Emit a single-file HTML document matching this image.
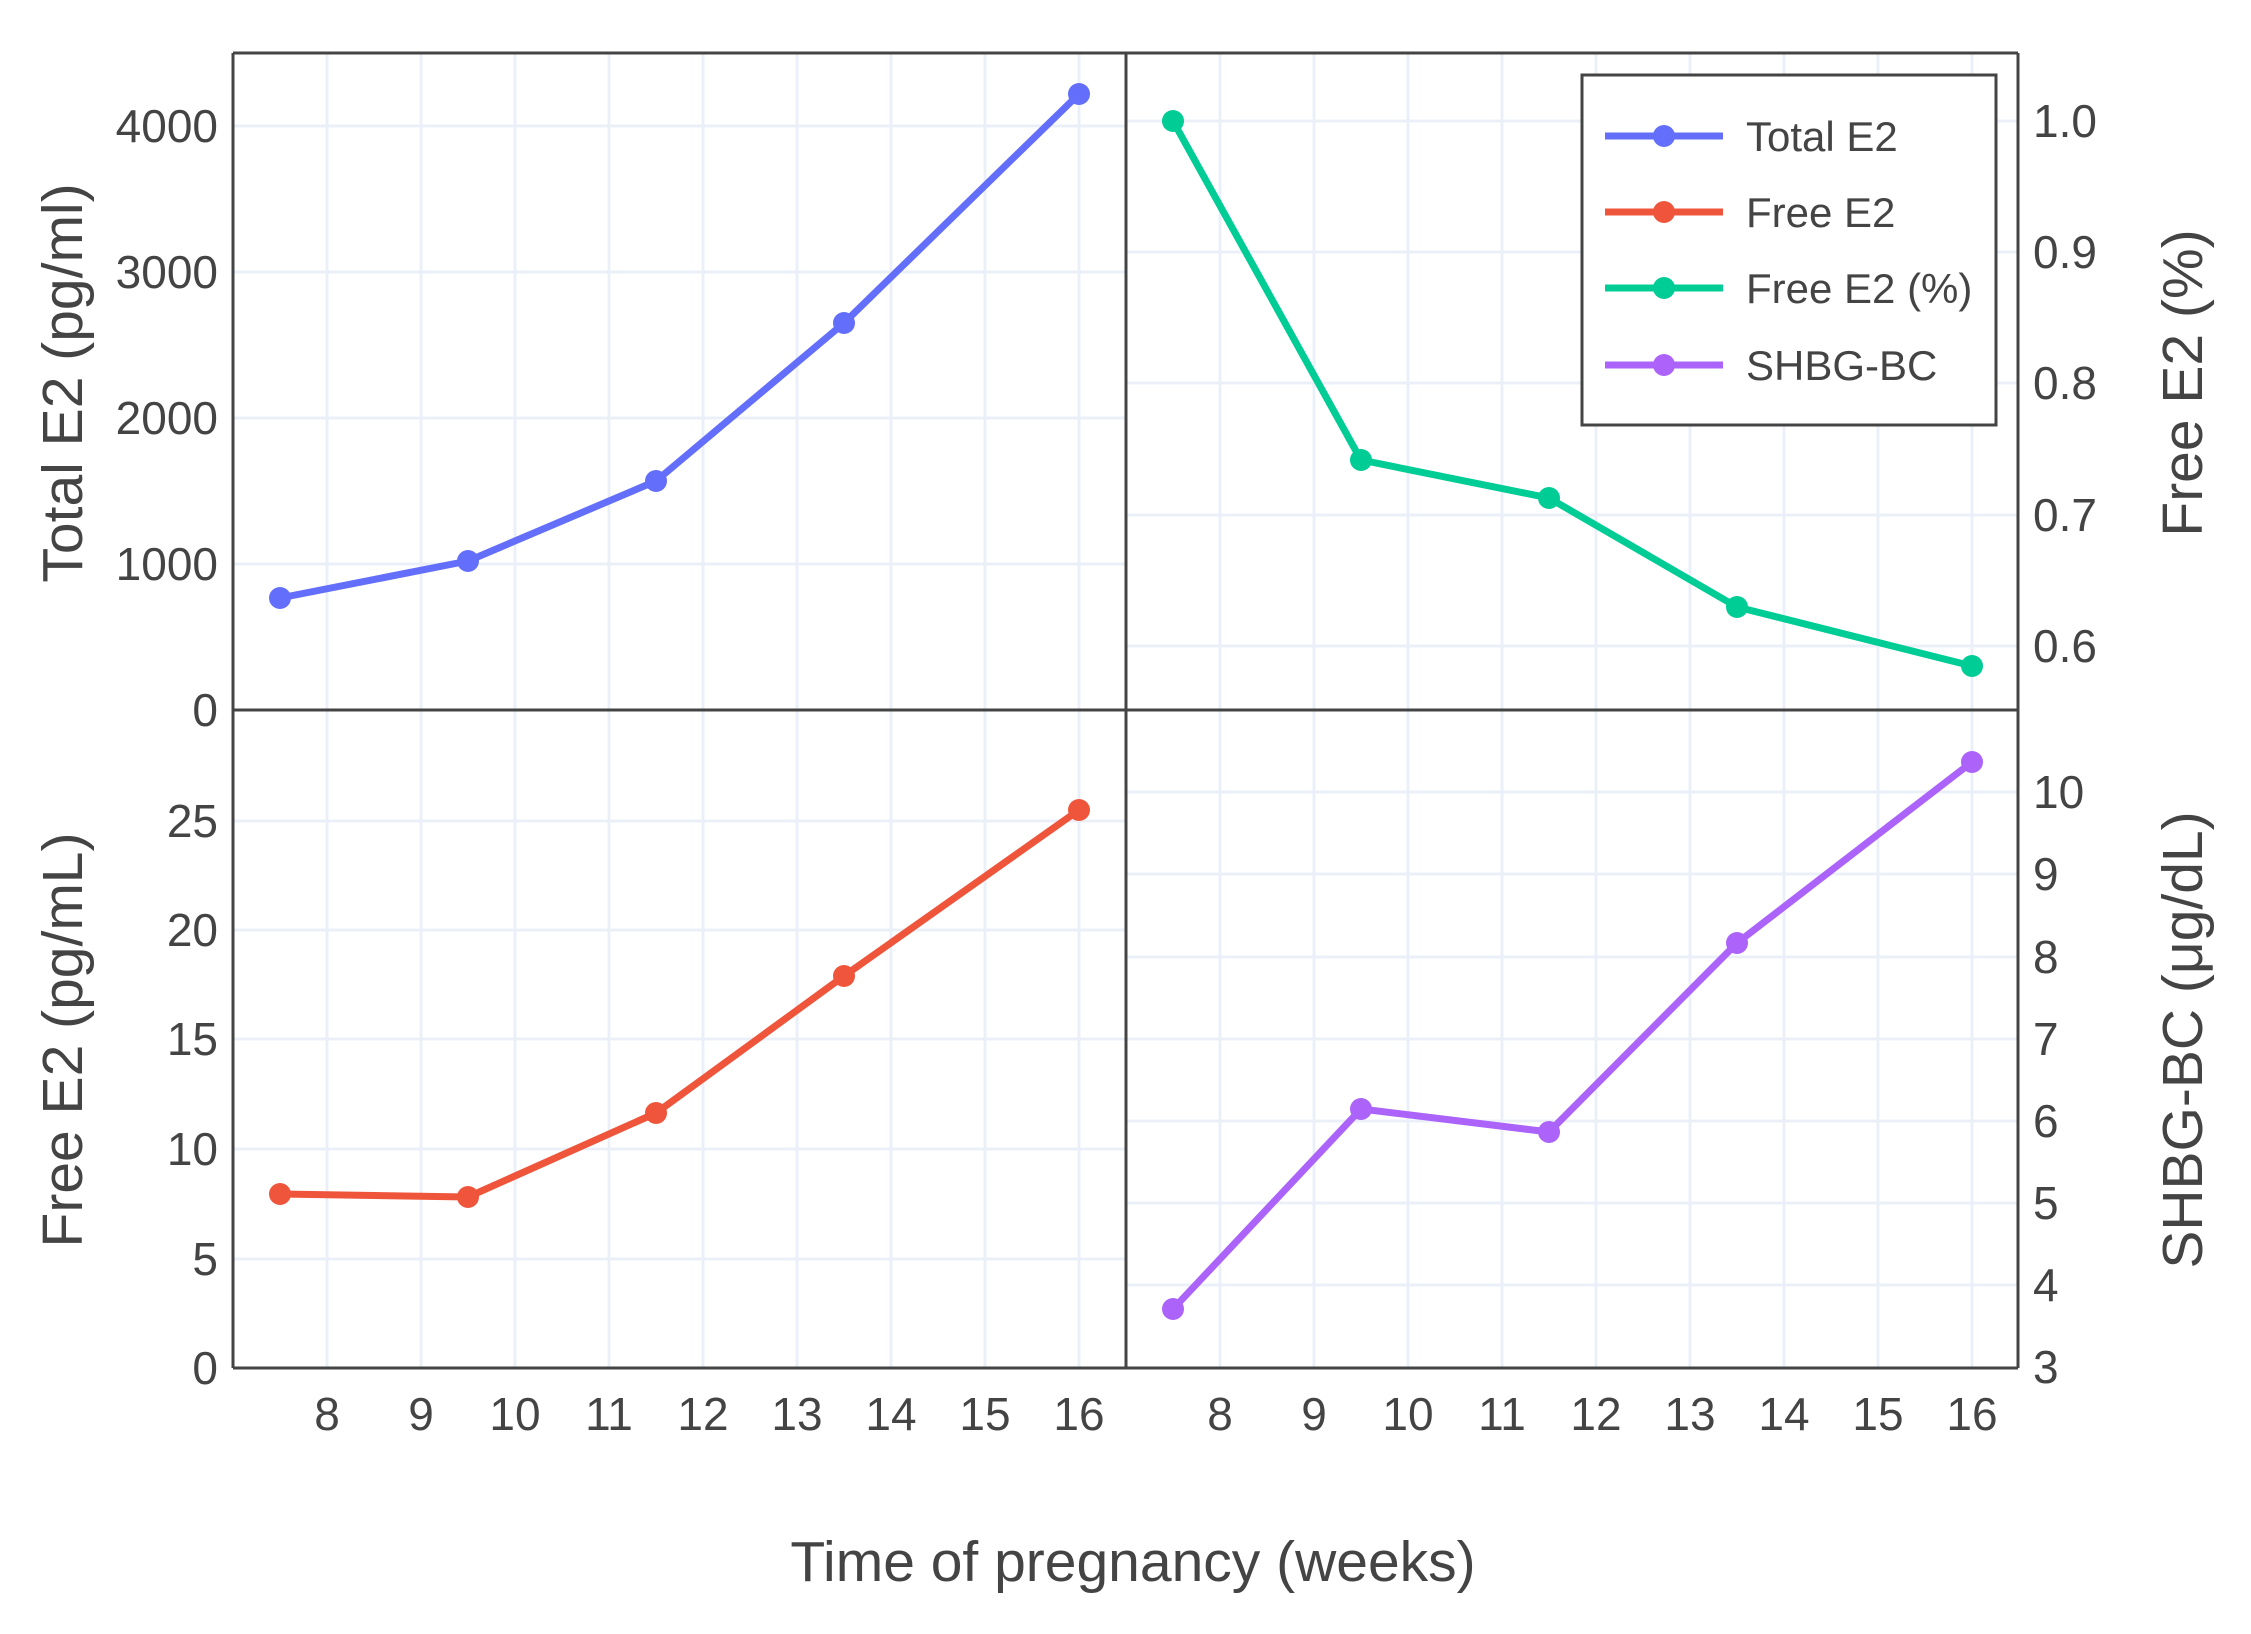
<!DOCTYPE html>
<html><head><meta charset="utf-8"><style>
html,body{margin:0;padding:0;background:#fff;}
svg{display:block;}
text{font-family:"Liberation Sans","DejaVu Sans",sans-serif;fill:#444;}
</style></head><body>
<svg width="2251" height="1634" viewBox="0 0 2251 1634" xmlns="http://www.w3.org/2000/svg">
<g stroke="#ebf0f8" stroke-width="3">
<line x1="327" y1="53" x2="327" y2="1368"/><line x1="421" y1="53" x2="421" y2="1368"/><line x1="515" y1="53" x2="515" y2="1368"/><line x1="609" y1="53" x2="609" y2="1368"/><line x1="703" y1="53" x2="703" y2="1368"/><line x1="797" y1="53" x2="797" y2="1368"/><line x1="891" y1="53" x2="891" y2="1368"/><line x1="985" y1="53" x2="985" y2="1368"/><line x1="1079" y1="53" x2="1079" y2="1368"/>
<line x1="1220" y1="53" x2="1220" y2="1368"/><line x1="1314" y1="53" x2="1314" y2="1368"/><line x1="1408" y1="53" x2="1408" y2="1368"/><line x1="1502" y1="53" x2="1502" y2="1368"/><line x1="1596" y1="53" x2="1596" y2="1368"/><line x1="1690" y1="53" x2="1690" y2="1368"/><line x1="1784" y1="53" x2="1784" y2="1368"/><line x1="1878" y1="53" x2="1878" y2="1368"/><line x1="1972" y1="53" x2="1972" y2="1368"/>
<line x1="233" y1="564" x2="1126" y2="564"/><line x1="233" y1="418" x2="1126" y2="418"/><line x1="233" y1="272" x2="1126" y2="272"/><line x1="233" y1="126" x2="1126" y2="126"/>
<line x1="1126" y1="121" x2="2018" y2="121"/><line x1="1126" y1="252" x2="2018" y2="252"/><line x1="1126" y1="383" x2="2018" y2="383"/><line x1="1126" y1="515" x2="2018" y2="515"/><line x1="1126" y1="646" x2="2018" y2="646"/>
<line x1="233" y1="1259" x2="1126" y2="1259"/><line x1="233" y1="1149" x2="1126" y2="1149"/><line x1="233" y1="1039" x2="1126" y2="1039"/><line x1="233" y1="930" x2="1126" y2="930"/><line x1="233" y1="821" x2="1126" y2="821"/>
<line x1="1126" y1="1285" x2="2018" y2="1285"/><line x1="1126" y1="1203" x2="2018" y2="1203"/><line x1="1126" y1="1121" x2="2018" y2="1121"/><line x1="1126" y1="1039" x2="2018" y2="1039"/><line x1="1126" y1="957" x2="2018" y2="957"/><line x1="1126" y1="874" x2="2018" y2="874"/><line x1="1126" y1="792" x2="2018" y2="792"/>
</g>
<g stroke="#444" stroke-width="3" fill="none">
<line x1="233" y1="53" x2="2018" y2="53"/>
<line x1="233" y1="53" x2="233" y2="1368"/>
<line x1="2018" y1="53" x2="2018" y2="1368"/>
<line x1="233" y1="1368" x2="2018" y2="1368"/>
<line x1="233" y1="710" x2="2018" y2="710"/>
<line x1="1126" y1="53" x2="1126" y2="1368"/>
</g>
<g fill="none" stroke-width="7" stroke-linejoin="round">
<polyline stroke="#636efa" points="280,598 468,561 656,481 844,323 1079,94"/>
<polyline stroke="#00cc96" points="1173,121 1361,460 1549,498 1737,607 1972,666"/>
<polyline stroke="#ef553b" points="280,1194 468,1197 656,1113 844,976 1079,810"/>
<polyline stroke="#ab63fa" points="1173,1309 1361,1109 1549,1132 1737,943 1972,762"/>
</g>
<g fill="#636efa"><circle cx="280" cy="598" r="11"/><circle cx="468" cy="561" r="11"/><circle cx="656" cy="481" r="11"/><circle cx="844" cy="323" r="11"/><circle cx="1079" cy="94" r="11"/></g>
<g fill="#00cc96"><circle cx="1173" cy="121" r="11"/><circle cx="1361" cy="460" r="11"/><circle cx="1549" cy="498" r="11"/><circle cx="1737" cy="607" r="11"/><circle cx="1972" cy="666" r="11"/></g>
<g fill="#ef553b"><circle cx="280" cy="1194" r="11"/><circle cx="468" cy="1197" r="11"/><circle cx="656" cy="1113" r="11"/><circle cx="844" cy="976" r="11"/><circle cx="1079" cy="810" r="11"/></g>
<g fill="#ab63fa"><circle cx="1173" cy="1309" r="11"/><circle cx="1361" cy="1109" r="11"/><circle cx="1549" cy="1132" r="11"/><circle cx="1737" cy="943" r="11"/><circle cx="1972" cy="762" r="11"/></g>
<g font-size="46" text-anchor="end">
<text x="218" y="726">0</text><text x="218" y="580">1000</text><text x="218" y="434">2000</text><text x="218" y="288">3000</text><text x="218" y="142">4000</text>
<text x="218" y="1384">0</text><text x="218" y="1275">5</text><text x="218" y="1165">10</text><text x="218" y="1055">15</text><text x="218" y="946">20</text><text x="218" y="837">25</text>
</g>
<g font-size="46" text-anchor="start">
<text x="2033" y="137">1.0</text><text x="2033" y="268">0.9</text><text x="2033" y="399">0.8</text><text x="2033" y="531">0.7</text><text x="2033" y="662">0.6</text>
<text x="2033" y="1383">3</text><text x="2033" y="1301">4</text><text x="2033" y="1219">5</text><text x="2033" y="1137">6</text><text x="2033" y="1055">7</text><text x="2033" y="973">8</text><text x="2033" y="890">9</text><text x="2033" y="808">10</text>
</g>
<g font-size="46" text-anchor="middle">
<text x="327" y="1430">8</text><text x="421" y="1430">9</text><text x="515" y="1430">10</text><text x="609" y="1430">11</text><text x="703" y="1430">12</text><text x="797" y="1430">13</text><text x="891" y="1430">14</text><text x="985" y="1430">15</text><text x="1079" y="1430">16</text>
<text x="1220" y="1430">8</text><text x="1314" y="1430">9</text><text x="1408" y="1430">10</text><text x="1502" y="1430">11</text><text x="1596" y="1430">12</text><text x="1690" y="1430">13</text><text x="1784" y="1430">14</text><text x="1878" y="1430">15</text><text x="1972" y="1430">16</text>
</g>
<g font-size="57" text-anchor="middle">
<text x="1133" y="1581">Time of pregnancy (weeks)</text>
<text transform="translate(82,383) rotate(-90)">Total E2 (pg/ml)</text>
<text transform="translate(82,1040) rotate(-90)">Free E2 (pg/mL)</text>
<text transform="translate(2202,383) rotate(-90)">Free E2 (%)</text>
<text transform="translate(2202,1040) rotate(-90)">SHBG-BC (μg/dL)</text>
</g>
<rect x="1582" y="75" width="414" height="350" fill="#fff" stroke="#444" stroke-width="3"/>
<g stroke-width="7">
<line x1="1605" y1="136" x2="1723" y2="136" stroke="#636efa"/>
<line x1="1605" y1="212" x2="1723" y2="212" stroke="#ef553b"/>
<line x1="1605" y1="288" x2="1723" y2="288" stroke="#00cc96"/>
<line x1="1605" y1="365" x2="1723" y2="365" stroke="#ab63fa"/>
</g>
<circle cx="1664" cy="136" r="11" fill="#636efa"/><circle cx="1664" cy="212" r="11" fill="#ef553b"/><circle cx="1664" cy="288" r="11" fill="#00cc96"/><circle cx="1664" cy="365" r="11" fill="#ab63fa"/>
<g font-size="42">
<text x="1746" y="151">Total E2</text><text x="1746" y="227">Free E2</text><text x="1746" y="303">Free E2 (%)</text><text x="1746" y="380">SHBG-BC</text>
</g>
</svg>
</body></html>
